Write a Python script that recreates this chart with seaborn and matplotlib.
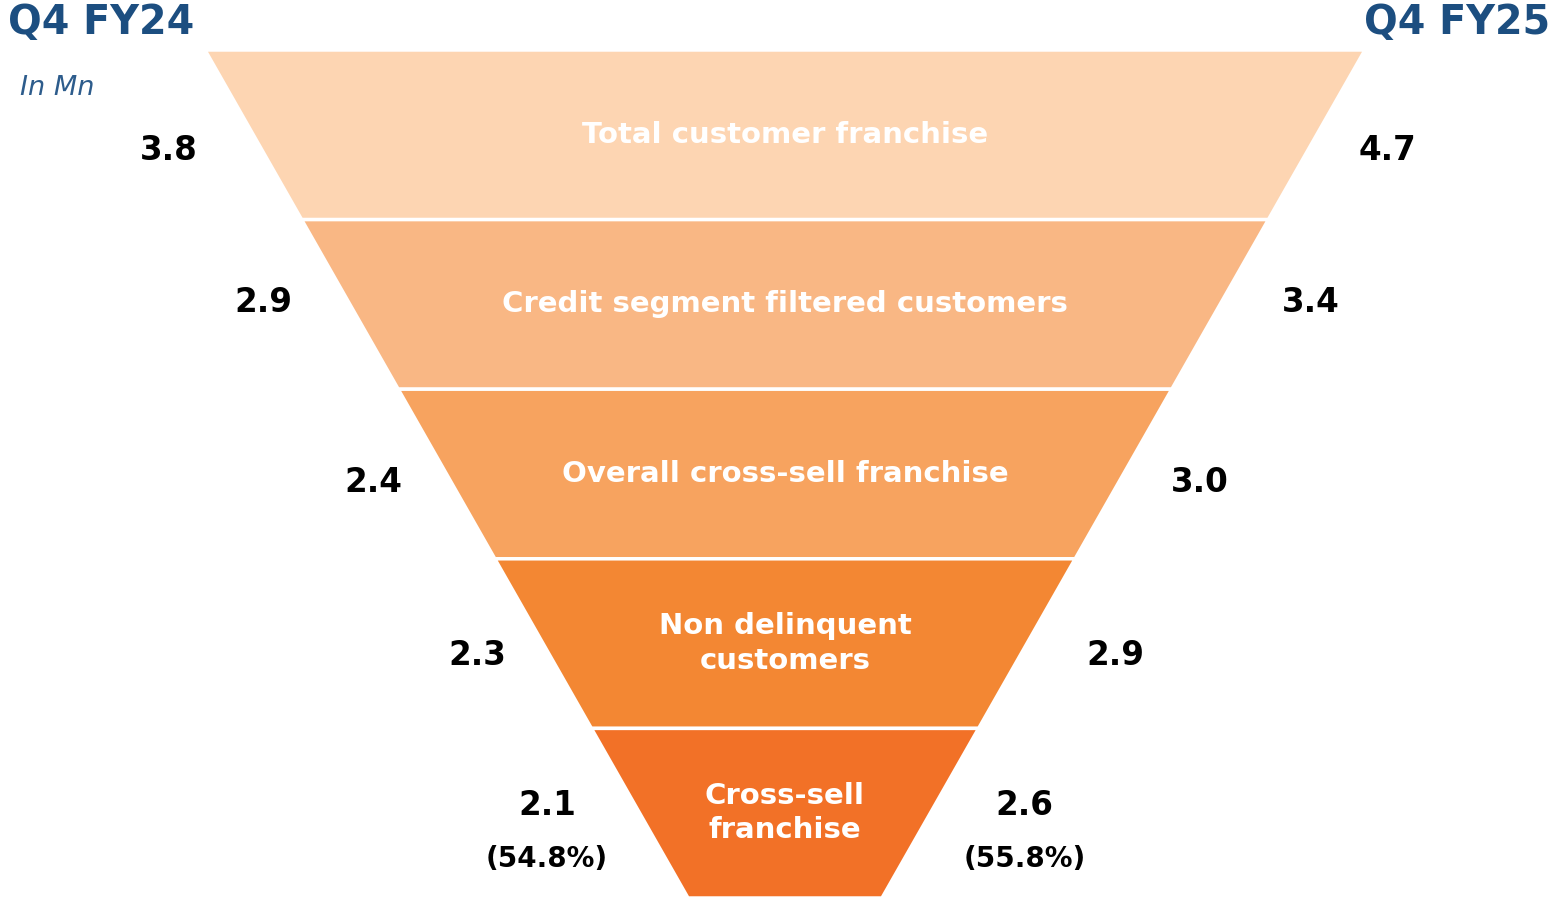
import matplotlib
matplotlib.use("Agg")
import matplotlib.pyplot as plt
import seaborn as sns
import numpy as np

sns.set_theme(style="white")
plt.rcParams['font.family'] = ['DejaVu Sans']

# ---- data ----
stages = ["Total customer franchise", "Credit segment filtered customers",
          "Overall cross-sell franchise", "Non delinquent\ncustomers",
          "Cross-sell\nfranchise"]
fy24 = ["3.8", "2.9", "2.4", "2.3", "2.1"]
fy25 = ["4.7", "3.4", "3.0", "2.9", "2.6"]
fy24_pct = "(54.8%)"
fy25_pct = "(55.8%)"
colors = ["#FDD5B2", "#F9B784", "#F7A35F", "#F38733", "#F27127"]
left_title = "Q4 FY24"
right_title = "Q4 FY25"
unit = "In Mn"

# ---- layout (pixel space) ----
W, H = 1555, 901
fig = plt.figure(figsize=(W / 100, H / 100), dpi=100)
ax = fig.add_axes([0, 0, 1, 1])
ax.set_xlim(0, W)
ax.set_ylim(H, 0)
ax.axis("off")

cx = 785
y_top, y_bot = 50, 898
hw_top, hw_bot = 580, 97
n = len(stages)
bounds = np.linspace(y_top, y_bot, n + 1)

def hw(y):
    return hw_top - (hw_top - hw_bot) * (y - y_top) / (y_bot - y_top)

title_color = "#1C4E80"
left_off = [94, 85, 78, 73, 88]
right_off = [80, 90, 81, 95, 90]
val_dy = [16, -2, 9, 12, -8]
for i in range(n):
    y0, y1 = bounds[i], bounds[i + 1]
    xs = [cx - hw(y0), cx + hw(y0), cx + hw(y1), cx - hw(y1)]
    ys = [y0, y0, y1, y1]
    ax.fill(xs, ys, color=colors[i], edgecolor="white", linewidth=2.5)
    ym = (y0 + y1) / 2
    ax.text(cx, ym, stages[i], ha="center", va="center", color="white",
            fontsize=21, fontweight="bold", linespacing=1.3)
    yl = ym + val_dy[i]
    ax.text(cx - hw(yl) - left_off[i], yl, fy24[i], ha="center", va="center",
            color="black", fontsize=23.5, fontweight="bold")
    ax.text(cx + hw(yl) + right_off[i], yl, fy25[i], ha="center", va="center",
            color="black", fontsize=23.5, fontweight="bold")

yl = (bounds[-2] + bounds[-1]) / 2 + val_dy[-1]
ax.text(cx - hw(yl) - left_off[-1], yl + 54, fy24_pct, ha="center", va="center",
        color="black", fontsize=20, fontweight="bold")
ax.text(cx + hw(yl) + right_off[-1], yl + 54, fy25_pct, ha="center", va="center",
        color="black", fontsize=20, fontweight="bold")

ax.text(8, 23, left_title, ha="left", va="center", color=title_color,
        fontsize=28.5, fontweight="bold")
ax.text(1550, 23, right_title, ha="right", va="center", color=title_color,
        fontsize=28.5, fontweight="bold")
ax.text(20, 88, unit, ha="left", va="center", color="#2D5C8C",
        fontsize=19.5, style="italic")

fig.savefig("out.png", dpi=100)
